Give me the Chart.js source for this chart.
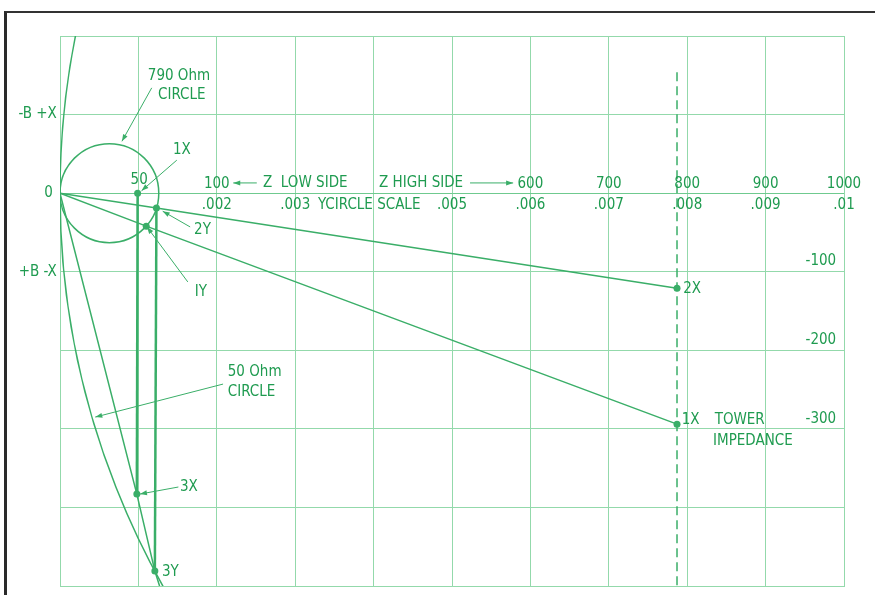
<!DOCTYPE html>
<html>
<head>
<meta charset="utf-8">
<title>Tower impedance chart</title>
<script src="https://cdn.jsdelivr.net/npm/chart.js@4.4.1/dist/chart.umd.min.js"></script>
<style>
  html, body { margin: 0; padding: 0; background: #fff; }
  #wrap { position: relative; width: 875px; height: 595px; overflow: hidden; }
  #frame { position: absolute; left: 4px; top: 11px; right: -4px; bottom: -4px;
           border-left: 3px solid #2a2a2a; border-top: 2px solid #333; }
  #chart-box { position: absolute; left: 0; top: 0; width: 875px; height: 595px; }
</style>
</head>
<body>
<div id="wrap">
  <div id="frame"></div>
  <div id="chart-box"><canvas id="impedance-chart"></canvas></div>
</div>
<script>
/* Scale ranges: x runs along the Z high side scale, y is reactance */
let xMin = 0, xMax = 1000, xStep = 100
let yMin = -500, yMax = 200, yStep = 100

/* Labels along the zero line */
let topRowValues = [200, 600, 700, 800, 900, 1000]
let topRowLabels = ['100', '600', '700', '800', '900', '1000']
let bottomRowValues = [200, 300, 500, 600, 700, 800, 900, 1000]
let bottomRowLabels = ['.002', '.003', '.005', '.006', '.007', '.008', '.009', '.01']

/* Reactance labels on the right, and the side labels on the left */
let reactanceValues = [-100, -200, -300]
let reactanceLabels = ['-100', '-200', '-300']
let sideValues = [100, 0, -100]
let sideLabels = ['-B +X', '0', '+B -X']

/* Marked points */
let pointNames = ['1X', '2Y', '1Y', '3X', '3Y', '2X', '1X tower']
let pointX = [99, 123, 110, 98, 121, 787, 787]
let pointY = [0, -19, -42, -383, -481, -121, -294]

/* Lines drawn between the points (x, y pairs) */
let line2X = [[0, 0], [123, -19], [787, -121]]
let line1X = [[0, 0], [110, -42], [787, -294]]
let line3Y = [[0, 0], [98, -383], [121, -481], [127, -500]]
let drop1X = [[99, 0], [98, -383]]
let drop2Y = [[123, -19], [121, -481]]
let towerLine = [[787, 154], [787, -500]]

/* Circles: centre on the zero line and radius, in scale units */
let circleCenters = [63, 1017]
let circleRadii = [63, 1017]

/* Text notes: text, x, y, align */
let notes = [
  ['790 Ohm', 112, 149, 'left'],
  ['CIRCLE', 125, 125, 'left'],
  ['1X', 144, 55, 'left'],
  ['50', 101, 17, 'center'],
  ['2Y', 171, -47, 'left'],
  ['IY', 172, -126, 'left'],
  ['Z  LOW SIDE', 259, 13, 'left'],
  ['Z HIGH SIDE', 407, 13, 'left'],
  ['YCIRCLE SCALE', 329, -15, 'left'],
  ['2X', 795, -122, 'left'],
  ['1X', 793, -289, 'left'],
  ['TOWER', 835, -289, 'left'],
  ['IMPEDANCE', 833, -316, 'left'],
  ['50 Ohm', 214, -228, 'left'],
  ['CIRCLE', 214, -253, 'left'],
  ['3X', 153, -374, 'left'],
  ['3Y', 130, -482, 'left']
]

/* Arrows: from x, from y, to x, to y (head at the "to" end) */
let arrows = [
  [117, 134, 79, 66],
  [149, 42, 104, 3],
  [166, -43, 131, -23],
  [163, -113, 111, -43],
  [208, -243, 45, -285],
  [151, -374, 102, -383],
  [251, 13, 221, 13],
  [523, 13, 578, 13]
]

let gridColor = '#93d9ab'
let lineColor = '#3aae68'
let textColor = '#1f9b50'
let labelFont = '15px "Liberation Sans Narrow", "DejaVu Sans Condensed", "Roboto", sans-serif'

function toPoints(pairs) {
  return pairs.map(p => ({ x: p[0], y: p[1] }))
}

function lineSet(pairs, width, dash) {
  return {
    data: toPoints(pairs),
    showLine: true,
    borderColor: lineColor,
    borderWidth: width,
    borderDash: dash || [],
    pointRadius: 0,
    fill: false
  }
}

let overlay = {
  id: 'overlay',
  beforeDatasetsDraw(chart) {
    let { ctx, chartArea, scales: { x, y } } = chart
    ctx.save()
    ctx.beginPath()
    ctx.rect(chartArea.left, chartArea.top, chartArea.width, chartArea.height)
    ctx.clip()
    ctx.strokeStyle = lineColor
    ctx.lineWidth = 1.5
    circleCenters.forEach((c, i) => {
      let cx = x.getPixelForValue(c)
      let cy = y.getPixelForValue(0)
      let rx = x.getPixelForValue(c + circleRadii[i]) - cx
      let ry = cy - y.getPixelForValue(circleRadii[i])
      ctx.beginPath()
      ctx.ellipse(cx, cy, rx, ry, 0, 0, Math.PI * 2)
      ctx.stroke()
    })
    ctx.restore()
  },
  afterDatasetsDraw(chart) {
    let { ctx, scales: { x, y } } = chart
    ctx.save()

    // arrows
    ctx.strokeStyle = lineColor
    ctx.fillStyle = lineColor
    ctx.lineWidth = 1
    arrows.forEach(a => {
      let x1 = x.getPixelForValue(a[0]), y1 = y.getPixelForValue(a[1])
      let x2 = x.getPixelForValue(a[2]), y2 = y.getPixelForValue(a[3])
      ctx.beginPath()
      ctx.moveTo(x1, y1)
      ctx.lineTo(x2, y2)
      ctx.stroke()
      let ang = Math.atan2(y2 - y1, x2 - x1)
      ctx.beginPath()
      ctx.moveTo(x2, y2)
      ctx.lineTo(x2 - 7 * Math.cos(ang) + 2.5 * Math.sin(ang), y2 - 7 * Math.sin(ang) - 2.5 * Math.cos(ang))
      ctx.lineTo(x2 - 7 * Math.cos(ang) - 2.5 * Math.sin(ang), y2 - 7 * Math.sin(ang) + 2.5 * Math.cos(ang))
      ctx.closePath()
      ctx.fill()
    })

    // text
    ctx.fillStyle = textColor
    ctx.font = labelFont
    ctx.textBaseline = 'middle'

    ctx.textAlign = 'center'
    topRowValues.forEach((v, i) => {
      ctx.fillText(topRowLabels[i], x.getPixelForValue(v), y.getPixelForValue(11.5))
    })
    bottomRowValues.forEach((v, i) => {
      ctx.fillText(bottomRowLabels[i], x.getPixelForValue(v), y.getPixelForValue(-15))
    })

    ctx.textAlign = 'right'
    reactanceValues.forEach((v, i) => {
      ctx.fillText(reactanceLabels[i], x.getPixelForValue(990), y.getPixelForValue(v + 13))
    })
    sideValues.forEach((v, i) => {
      ctx.fillText(sideLabels[i], x.getPixelForValue(v === 0 ? -9 : -4), y.getPixelForValue(v))
    })

    notes.forEach(n => {
      ctx.textAlign = n[3]
      ctx.fillText(n[0], x.getPixelForValue(n[1]), y.getPixelForValue(n[2]))
    })
    ctx.restore()
  }
}

let ctx = document.querySelector('#impedance-chart').getContext('2d')

let impedanceChart = new Chart(ctx, {
  type: 'scatter',
  data: {
    datasets: [
      lineSet(line2X, 1.5),
      lineSet(line1X, 1.5),
      lineSet(line3Y, 1.5),
      lineSet(drop1X, 2.5),
      lineSet(drop2Y, 2.5),
      lineSet(towerLine, 1.5, [9, 5]),
      {
        data: pointX.map((v, i) => ({ x: v, y: pointY[i], name: pointNames[i] })),
        showLine: false,
        pointRadius: 3.5,
        pointBackgroundColor: lineColor,
        pointBorderWidth: 0
      }
    ]
  },
  options: {
    responsive: true,
    maintainAspectRatio: false,
    animation: false,
    layout: { padding: { left: 60, right: 31, top: 36, bottom: 9 } },
    plugins: { legend: { display: false }, tooltip: { enabled: false } },
    scales: {
      x: {
        type: 'linear', min: xMin, max: xMax,
        ticks: { stepSize: xStep, display: false },
        grid: { color: gridColor, lineWidth: 1, drawTicks: false },
        border: { display: true, color: gridColor }
      },
      y: {
        type: 'linear', min: yMin, max: yMax,
        ticks: { stepSize: yStep, display: false },
        grid: {
          color: c => c.tick && c.tick.value === 0 ? '#6fca8f' : gridColor,
          lineWidth: 1, drawTicks: false
        },
        border: { display: true, color: gridColor }
      }
    }
  },
  plugins: [overlay]
})
</script>
</body>
</html>
